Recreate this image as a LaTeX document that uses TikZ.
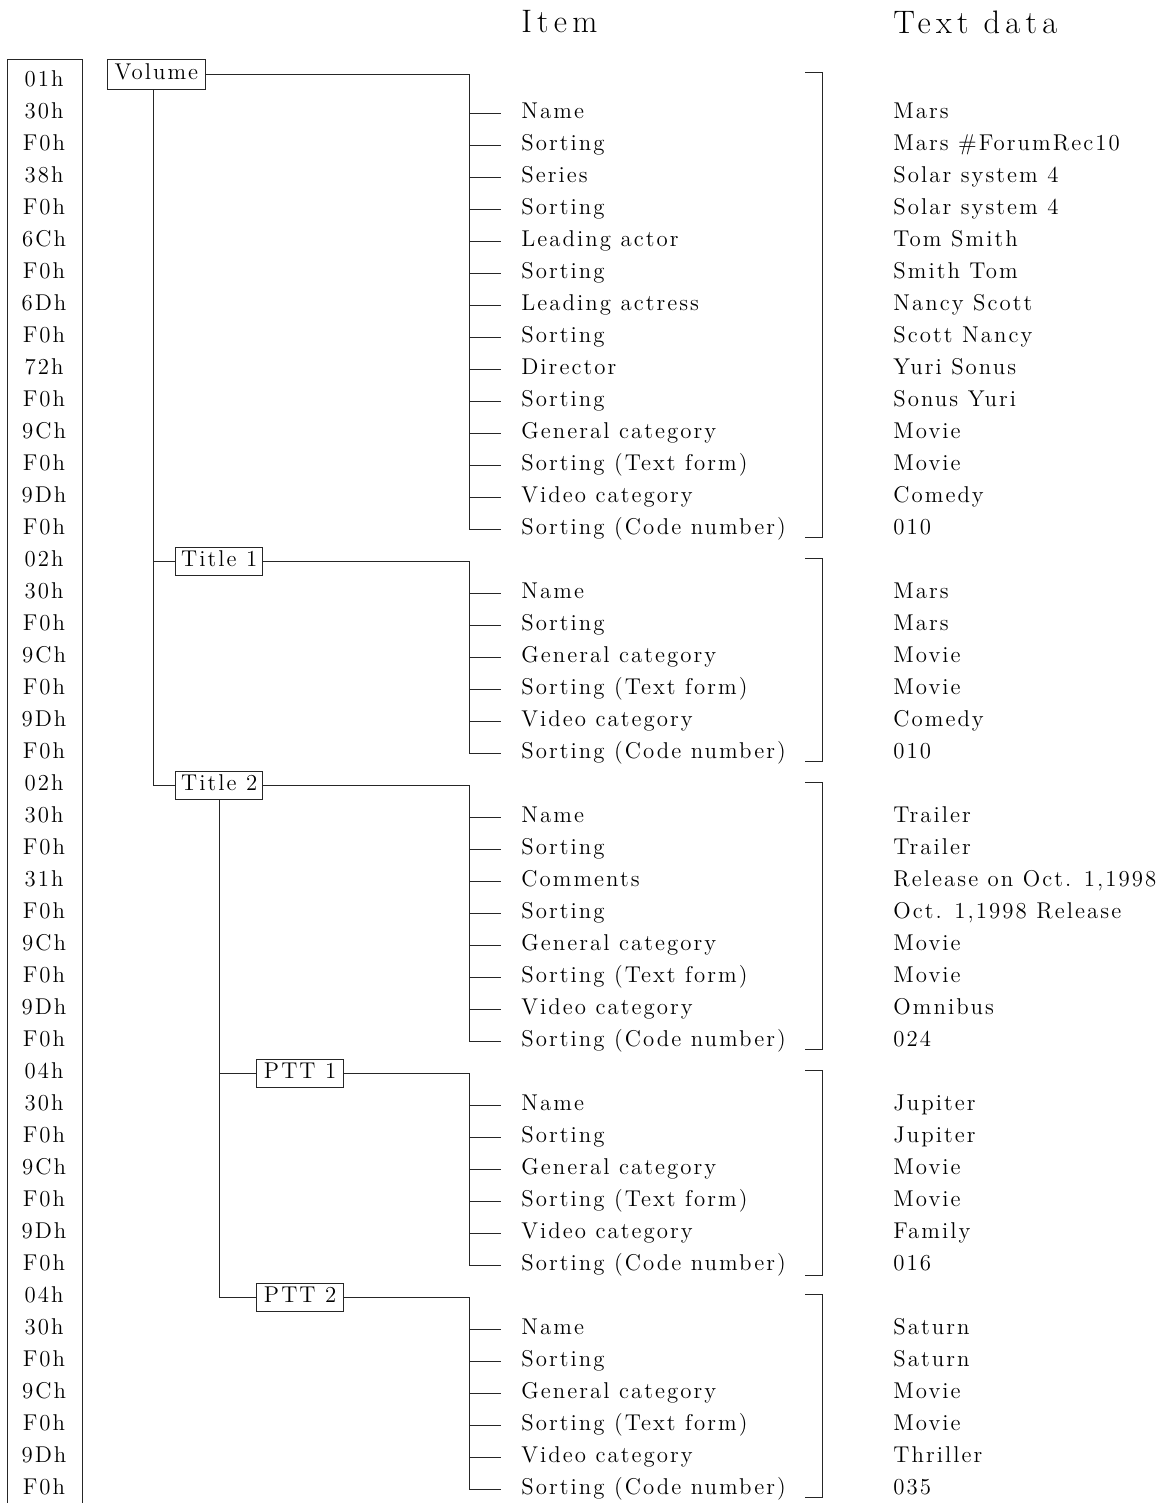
\documentclass[tikz,border=0pt]{standalone}
\usepackage{fontspec}
\setmainfont{Latin Modern Roman}[LetterSpace=9]
\newfontfamily\headfont{Latin Modern Roman}[LetterSpace=16]
\usetikzlibrary{calc}

\tikzset{
  txt/.style={inner sep=0pt, text height=0.9em, text depth=0.22em, font=\fontsize{13}{15}\selectfont},
  lvl/.style={txt, draw, line width=0.45pt, draw=black!85, minimum height=0.56cm, minimum width=1.75cm},
  head/.style={inner sep=0pt, font=\headfont\fontsize{18.5}{21}\selectfont},
  ln/.style={line width=0.45pt, draw=black!85}
}

\begin{document}
\begin{tikzpicture}[x=0.02cm, y=-0.02cm]
\useasboundingbox (0,0) rectangle (1165,1503);
% headings
\node[head, anchor=west] (hitem) at (521,22) {Item};
\node[head, anchor=west] (hdata) at (893,22) {Text data};
% hex codes
\draw[ln] (7,1503) -- (7,59) -- (82,59) -- (82,1503);
\foreach \h [count=\i from 0] in {01h,30h,F0h,38h,F0h,6Ch,F0h,6Dh,F0h,72h,F0h,9Ch,F0h,9Dh,F0h,
  02h,30h,F0h,9Ch,F0h,9Dh,F0h,
  02h,30h,F0h,31h,F0h,9Ch,F0h,9Dh,F0h,
  04h,30h,F0h,9Ch,F0h,9Dh,F0h,
  04h,30h,F0h,9Ch,F0h,9Dh,F0h}
  \node[txt] (h\i) at (44,81+32*\i) {\h};
% items and text data
\foreach \r/\a/\b in {1/Name/Mars, 2/Sorting/Mars \#ForumRec10, 3/Series/Solar system 4, 4/Sorting/Solar system 4,
  5/Leading actor/Tom Smith, 6/Sorting/Smith Tom, 7/Leading actress/Nancy Scott, 8/Sorting/Scott Nancy,
  9/Director/Yuri Sonus, 10/Sorting/Sonus Yuri, 11/General category/Movie, 12/Sorting (Text form)/Movie,
  13/Video category/Comedy, 14/Sorting (Code number)/010,
  16/Name/Mars, 17/Sorting/Mars, 18/General category/Movie, 19/Sorting (Text form)/Movie,
  20/Video category/Comedy, 21/Sorting (Code number)/010,
  23/Name/Trailer, 24/Sorting/Trailer, 25/Comments/{Release on Oct. 1,1998}, 26/Sorting/{Oct. 1,1998 Release},
  27/General category/Movie, 28/Sorting (Text form)/Movie, 29/Video category/Omnibus, 30/Sorting (Code number)/024,
  32/Name/Jupiter, 33/Sorting/Jupiter, 34/General category/Movie, 35/Sorting (Text form)/Movie,
  36/Video category/Family, 37/Sorting (Code number)/016,
  39/Name/Saturn, 40/Sorting/Saturn, 41/General category/Movie, 42/Sorting (Text form)/Movie,
  43/Video category/Thriller, 44/Sorting (Code number)/035}
{
  \node[txt, anchor=west] (i\r) at (521,81+32*\r) {\a};
  \node[txt, anchor=west] (d\r) at (893,81+32*\r) {\b};
  \draw[ln] ($(i\r.west)+(-52,0)$) -- ++(32,0);
}
% levels
\node[lvl, anchor=west, minimum width=1.96cm, minimum height=0.6cm] (vol) at (107,74) {Volume};
\node[lvl, anchor=west] (t1) at (175,561) {Title 1};
\node[lvl, anchor=west] (t2) at (175,785) {Title 2};
\node[lvl, anchor=west] (p1) at (256,1073) {PTT 1};
\node[lvl, anchor=west] (p2) at (256,1297) {PTT 2};
\coordinate (vt) at ($(vol.south)+(-3,0)$);
\draw[ln] (vt) |- (t2.west);
\draw[ln] (vt |- t1.west) -- (t1.west);
\draw[ln] (t2.south) |- (p2.west);
\draw[ln] (t2.south |- p1.west) -- (p1.west);
\draw[ln] (vol.east) -| ($(i14.west)+(-52,0)$) -- ++(32,0);
\draw[ln] (t1.east) -| ($(i21.west)+(-52,0)$) -- ++(32,0);
\draw[ln] (t2.east) -| ($(i30.west)+(-52,0)$) -- ++(32,0);
\draw[ln] (p1.east) -| ($(i37.west)+(-52,0)$) -- ++(32,0);
\draw[ln] (p2.east) -| ($(i44.west)+(-52,0)$) -- ++(32,0);
% brackets
\foreach \t/\b in {72/537, 558/761, 782/1049, 1070/1275, 1294/1497}
  \draw[ln] (805,\t) -- (822,\t) -- (822,\b) -- (805,\b);
\end{tikzpicture}
\end{document}
